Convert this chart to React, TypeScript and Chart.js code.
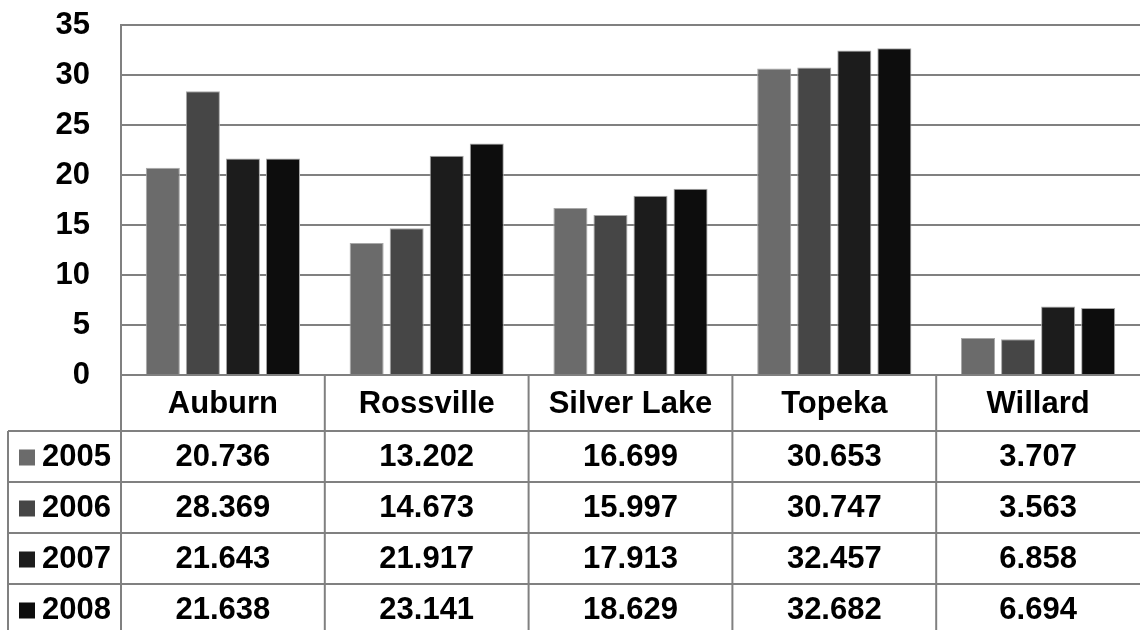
import React, { useEffect, useRef } from "react";
import { Chart, registerables } from "chart.js";

Chart.register(...registerables);

const categories = ["Auburn", "Rossville", "Silver Lake", "Topeka", "Willard"];
const seriesLabels = ["2005", "2006", "2007", "2008"];
const values2005 = [20.736, 13.202, 16.699, 30.653, 3.707];
const values2006 = [28.369, 14.673, 15.997, 30.747, 3.563];
const values2007 = [21.643, 21.917, 17.913, 32.457, 6.858];
const values2008 = [21.638, 23.141, 18.629, 32.682, 6.694];
const seriesValues = [values2005, values2006, values2007, values2008];
const seriesColors = ["#6b6b6b", "#464646", "#1c1c1c", "#0d0d0d"];
const yMin = 0;
const yMax = 35;
const yStep = 5;

const GRID = "#808080";
const FONT_FAMILY = '"Liberation Sans", Arial, sans-serif';
const FONT_SIZE = 31;
const HEADER_H = 56;
const ROW_H = 51;
const TABLE_LEFT = 8;

const tablePlugin = {
  id: "dataTable",
  afterDraw(chart: any) {
    const ctx = chart.ctx as CanvasRenderingContext2D;
    const { left, right, bottom } = chart.chartArea;
    const h = chart.height;
    const xScale = chart.scales.x;
    const colW = (right - left) / categories.length;
    ctx.save();
    ctx.strokeStyle = GRID;
    ctx.lineWidth = 2;
    const line = (x1: number, y1: number, x2: number, y2: number) => {
      ctx.beginPath();
      ctx.moveTo(x1, y1);
      ctx.lineTo(x2, y2);
      ctx.stroke();
    };
    for (let r = 0; r < seriesLabels.length; r++) {
      const y = bottom + HEADER_H + r * ROW_H;
      line(TABLE_LEFT, y, right, y);
    }
    line(TABLE_LEFT, bottom + HEADER_H, TABLE_LEFT, h);
    for (let i = 0; i < categories.length; i++) {
      const xb = left + i * colW;
      line(xb, bottom, xb, h);
    }
    ctx.fillStyle = "#000";
    ctx.font = `bold ${FONT_SIZE}px ${FONT_FAMILY}`;
    ctx.textAlign = "center";
    ctx.textBaseline = "middle";
    categories.forEach((c, i) => {
      ctx.fillText(c, xScale.getPixelForValue(i), bottom + HEADER_H / 2 + 1);
    });
    seriesLabels.forEach((lab, r) => {
      const yc = bottom + HEADER_H + r * ROW_H + ROW_H / 2 + 1;
      ctx.fillStyle = seriesColors[r];
      ctx.fillRect(19, yc - 8, 16, 16);
      ctx.fillStyle = "#000";
      ctx.textAlign = "left";
      ctx.fillText(lab, 42, yc);
      ctx.textAlign = "center";
      seriesValues[r].forEach((v, i) => {
        ctx.fillText(v.toFixed(3), xScale.getPixelForValue(i), yc);
      });
    });
    ctx.restore();
  },
};

export default function App() {
  const ref = useRef<HTMLCanvasElement | null>(null);
  useEffect(() => {
    document.body.style.margin = "0";
    const canvas = ref.current;
    if (!canvas) return;
    const chart = new Chart(canvas, {
      type: "bar",
      data: {
        labels: categories,
        datasets: seriesLabels.map((lab, i) => ({
          label: lab,
          data: seriesValues[i],
          backgroundColor: seriesColors[i],
          borderColor: "#a8a8a8",
          borderWidth: 1,
          categoryPercentage: 0.786,
          barPercentage: 0.85,
        })),
      },
      options: {
        responsive: false,
        animation: false,
        layout: { padding: { top: 25, bottom: 255, left: 0, right: 0 } },
        plugins: { legend: { display: false }, tooltip: { enabled: false } },
        scales: {
          x: { display: false },
          y: {
            min: yMin,
            max: yMax,
            afterFit: (s: any) => {
              s.width = 121;
            },
            ticks: {
              stepSize: yStep,
              color: "#000",
              padding: 0,
              font: { family: FONT_FAMILY, size: FONT_SIZE, weight: "bold" },
            },
            grid: {
              color: GRID,
              lineWidth: 2,
              drawTicks: true,
              tickLength: 31,
              tickColor: "rgba(0,0,0,0)",
            },
            border: { display: true, color: GRID, width: 2 },
          },
        },
      },
      plugins: [tablePlugin],
    } as any);
    return () => chart.destroy();
  }, []);
  return (
    <div style={{ width: 1140, height: 630 }}>
      <canvas ref={ref} width={1140} height={630} />
    </div>
  );
}
